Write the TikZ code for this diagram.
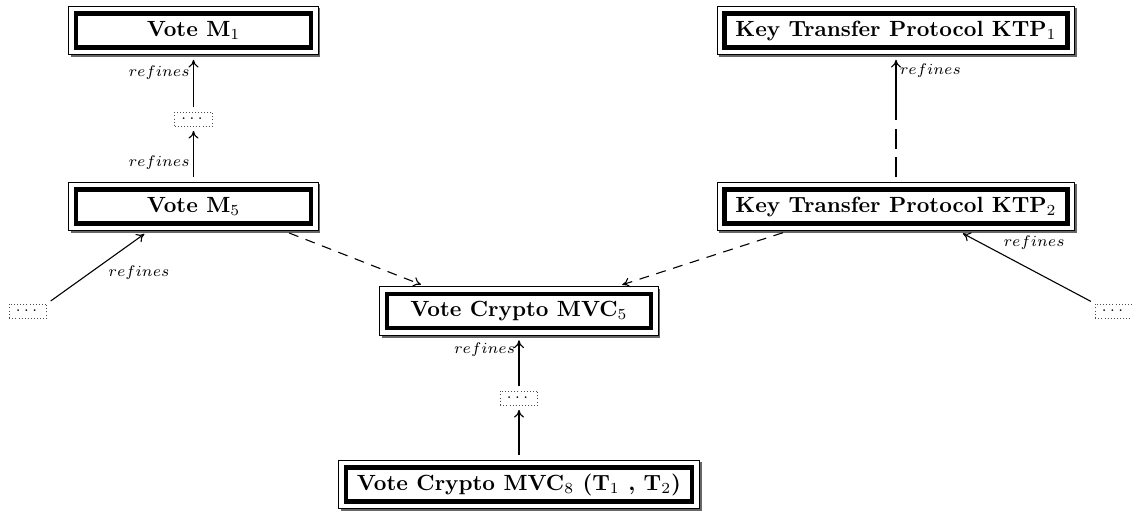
\documentclass[tikz,border=0pt]{standalone}
\usepackage{amssymb,amsmath}
\usepackage{tikz}
\usetikzlibrary{arrows.meta,calc,positioning,fit,shadows,backgrounds}

\begin{document}
\begin{tikzpicture}[
    x=0.4545pt, y=-0.4545pt,
    model/.style={draw=black, line width=2pt, font=\bfseries, inner xsep=5pt, inner ysep=2.5pt, minimum height=15.5pt},
    frame/.style={draw=black, line width=0.5pt, fill=white, inner sep=2.3pt,
      drop shadow={shadow xshift=1pt, shadow yshift=-1pt, fill=black!60, opacity=1}},
    gap/.style={draw=black!70, densely dotted, inner sep=0pt, minimum width=17pt, minimum height=6.4pt, font=\scriptsize},
    ref/.style={-{To[length=3.5pt,width=4.5pt]}, line width=0.5pt, shorten <=2pt, shorten >=2pt},
    dep/.style={ref, dash pattern=on 4.5pt off 3.5pt},
    lbl/.style={font=\scriptsize, inner sep=1.5pt},
  ]
    \useasboundingbox (0,0) rectangle (1132,510);

    % models
    \node[model, minimum width=106.8pt] (m1) at (193.5,30.5) {Vote M$_1$};
    \node[model, minimum width=106.8pt] (m5) at (193.5,206.5) {Vote M$_5$};
    \node[model] (ktp1) at (896,30.5) {Key Transfer Protocol KTP$_1$};
    \node[model] (ktp2) at (896,206.5) {Key Transfer Protocol KTP$_2$};
    \node[model, minimum width=120pt] (mvc5) at (519,311) {Vote Crypto MVC$_5$};
    \node[model] (mvc8) at (519,484.5) {Vote Crypto MVC$_8$ (T$_1$ , T$_2$)};

    % outer frames with shadow
    \begin{scope}[on background layer]
      \foreach \n in {m1,m5,ktp1,ktp2,mvc5,mvc8}
        \node[frame, fit=(\n)] (\n f) {};
    \end{scope}

    % elided steps
    \node[gap] (g1) at (193.5,119) {$\cdots$};
    \node[gap] (gl) at (28,311) {$\cdots$};
    \node[gap] (gr) at (1114,311) {$\cdots$};
    \node[gap] (gc) at (519,398) {$\cdots$};

    \draw[ref] (m5f.north) -- node[lbl, left, pos=.35] {$refines$} (g1.south);
    \draw[ref] (g1.north) -- node[lbl, left, pos=.7] {$refines$} (m1f.south);
    \draw[ref] (gl.north east) -- node[lbl, below right, pos=.57] {$refines$} ([xshift=-20.7pt]m5f.south);
    \draw[ref] (gr.north west) -- node[lbl, above right, pos=.7] {$refines$} ([xshift=28.6pt]ktp2f.south);
    \draw[ref, dash pattern=on 9pt off 4pt on 9pt off 4pt on 100pt] (ktp2f.north) -- node[lbl, right, pos=.88] {$refines$} (ktp1f.south);

    \draw[dep] ([xshift=41.6pt]m5f.south) -- ([xshift=-42.7pt]mvc5f.north);
    \draw[dep] ([xshift=-49.5pt]ktp2f.south) -- ([xshift=45pt]mvc5f.north);

    \draw[ref] (gc.north) -- node[lbl, left, pos=.74] {$refines$} (mvc5f.south);
    \draw[ref] (mvc8f.north) -- (gc.south);
  \end{tikzpicture}
\end{document}
